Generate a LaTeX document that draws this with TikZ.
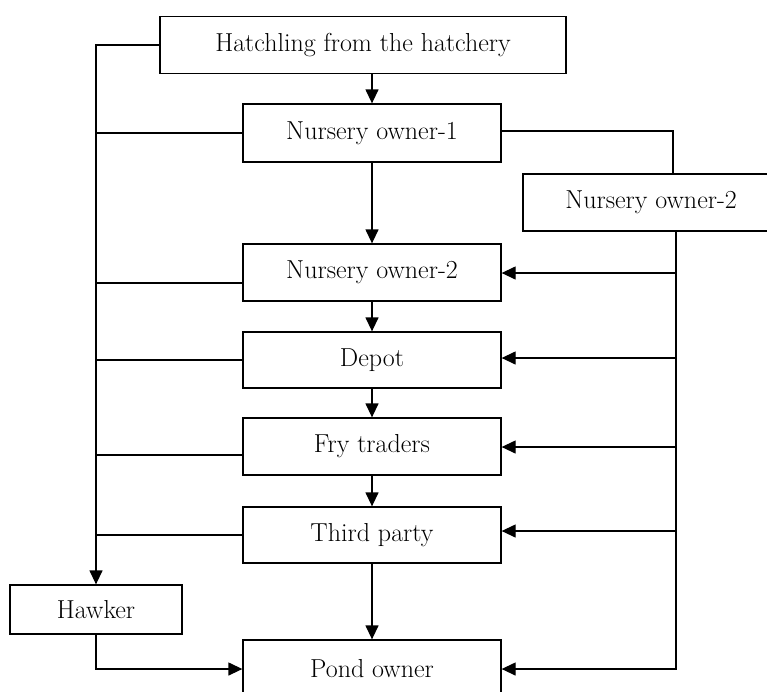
\documentclass[tikz,border=0pt]{standalone}
\usetikzlibrary{arrows.meta,calc}
\begin{document}
\begin{tikzpicture}[x=1pt,y=-1pt,
  box/.style={draw,line width=1.3pt,minimum height=57pt,minimum width=258pt,inner sep=0pt,font=\fontsize{26}{30}\selectfont},
  conn/.style={line width=1.3pt},
  arr/.style={conn,-{Triangle[length=14pt,width=13pt]}}]
\useasboundingbox (0,0) rectangle (767,691);
\clip (0,0) rectangle (767,691);
\node[box,minimum width=406pt] (hatch) at (363,45) {Hatchling from the hatchery};
\node[box,minimum height=58pt] (n1) at (372,133) {Nursery owner-1};
\node[box,minimum width=256pt] (r2) at (651,202.5) {Nursery owner-2};
\node[box] (n2) at (372,272.5) {Nursery owner-2};
\node[box,minimum height=56pt] (depot) at (372,360) {Depot};
\node[box] (fry) at (372,446.5) {Fry traders};
\node[box,minimum height=56pt] (third) at (372,535) {Third party};
\node[box,minimum width=172pt,minimum height=49pt] (hawker) at (96,609.5) {Hawker};
\node[box,minimum height=58pt] (pond) at (372,669) {Pond owner};
% vertical main chain
\draw[arr] (hatch.south -| n1.north) -- (n1.north);
\draw[arr] (n1) -- (n2);
\draw[arr] (n2) -- (depot);
\draw[arr] (depot) -- (fry);
\draw[arr] (fry) -- (third);
\draw[arr] (third) -- (pond);
% helper points
\coordinate (ltop) at (96,45);
\coordinate (n2w) at ([yshift=-10.5pt]n2.west);
\coordinate (fryw) at ([yshift=-8.5pt]fry.west);
\coordinate (n1e) at ([yshift=2pt]n1.east);
\coordinate (n2e) at ([yshift=-0.5pt]n2.east);
\coordinate (depe) at ([yshift=2pt]depot.east);
\coordinate (frye) at ([yshift=-0.5pt]fry.east);
\coordinate (thie) at ([yshift=4pt]third.east);
\coordinate (rtop) at ([xshift=22pt]r2.north);
\coordinate (rb) at ([xshift=25pt]r2.south);
% left trunk
\draw[arr] (hatch.west) -- (ltop) -- (hawker.north);
\draw[conn] (ltop |- n1.west) -- (n1.west);
\draw[conn] (ltop |- n2w) -- (n2w);
\draw[conn] (ltop |- depot.west) -- (depot.west);
\draw[conn] (ltop |- fryw) -- (fryw);
\draw[conn] (ltop |- third.west) -- (third.west);
\draw[arr] (hawker.south) |- (pond.west);
% right trunk
\draw[conn] (n1e) -| (rtop);
\draw[arr] (rb) |- (pond.east);
\draw[arr] (rb |- n2e) -- (n2e);
\draw[arr] (rb |- depe) -- (depe);
\draw[arr] (rb |- frye) -- (frye);
\draw[arr] (rb |- thie) -- (thie);
\end{tikzpicture}
\end{document}
